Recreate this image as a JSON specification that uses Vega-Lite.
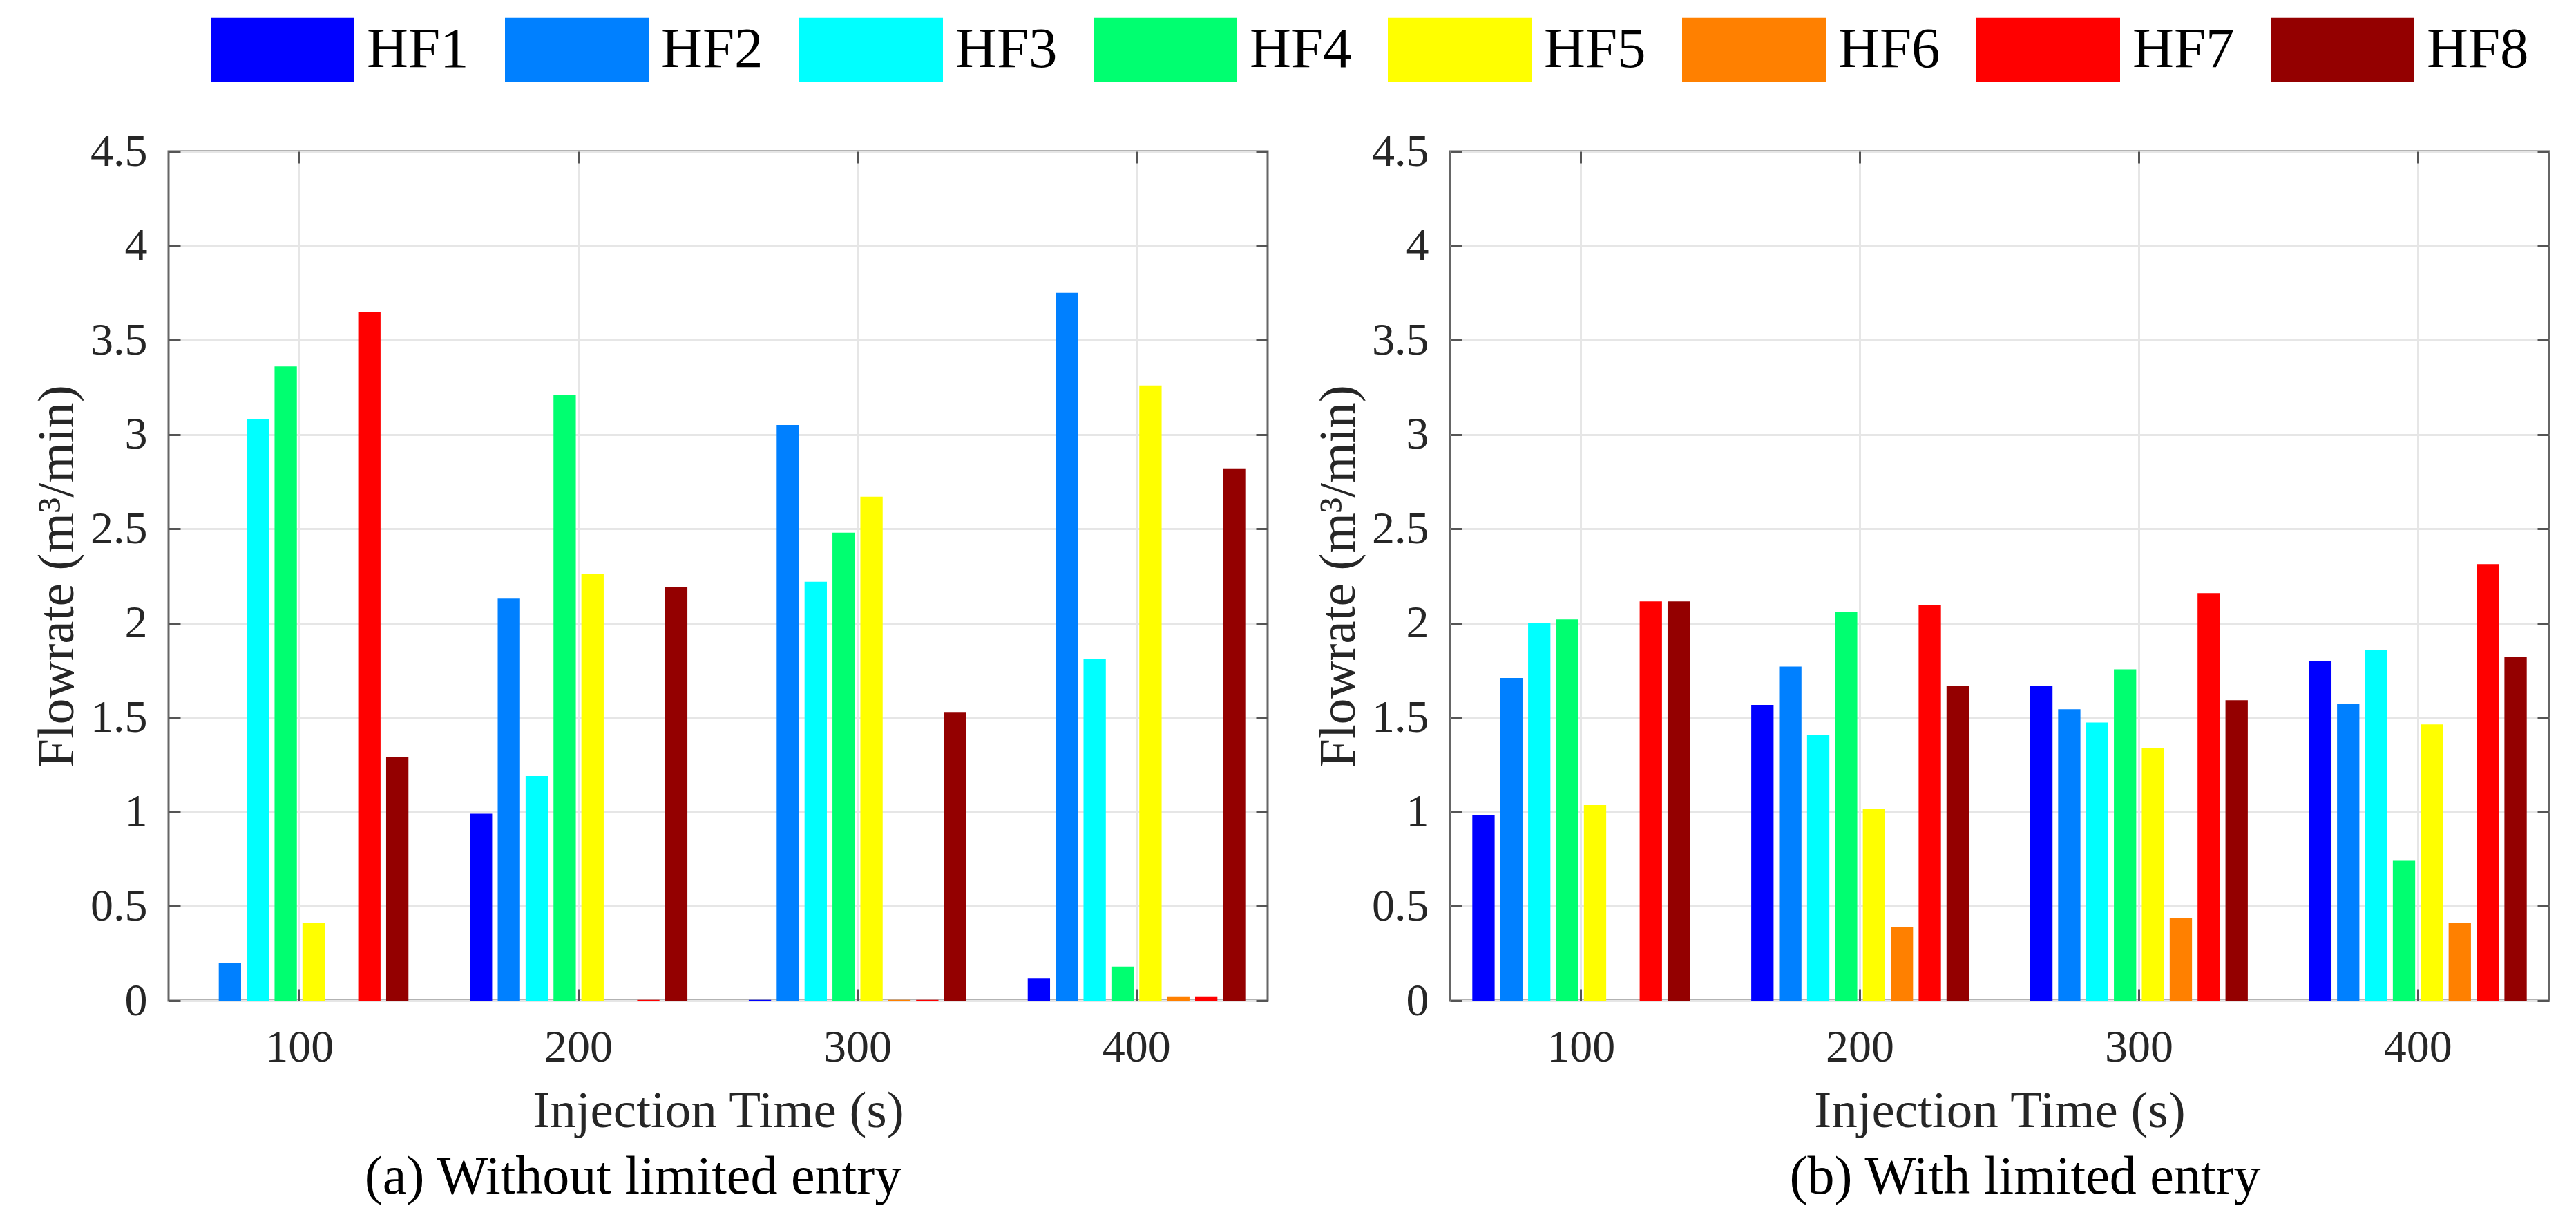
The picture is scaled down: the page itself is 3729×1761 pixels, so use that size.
{
  "$schema": "https://vega.github.io/schema/vega-lite/v6.json",
  "padding": {"left": 44, "top": -32, "right": 27, "bottom": 12},
  "background": "white",
  "config": {
    "font": "Liberation Serif",
    "view": {"stroke": "#666666", "strokeWidth": 3},
    "axis": {
      "labelFont": "Liberation Serif",
      "titleFont": "Liberation Serif",
      "labelFontSize": 66,
      "titleFontSize": 75,
      "labelColor": "#262626",
      "titleColor": "#262626",
      "titleFontWeight": "normal",
      "tickColor": "#555555",
      "tickWidth": 3,
      "tickSize": -17,
      "gridColor": "#e6e6e6",
      "gridWidth": 3,
      "domain": false
    },
    "legend": {
      "orient": "none",
      "direction": "horizontal",
      "columns": 8,
      "legendX": 61,
      "legendY": -251,
      "labelFont": "Liberation Serif",
      "labelFontSize": 83,
      "labelColor": "black",
      "labelOffset": 18,
      "columnPadding": 52,
      "symbolType": "M-1,-0.447L1,-0.447L1,0.447L-1,0.447Z",
      "symbolSize": 43264,
      "symbolStrokeWidth": 0,
      "symbolOpacity": 1,
      "title": null
    },
    "title": {"font": "Liberation Serif", "fontSize": 78, "fontWeight": "normal", "color": "black"}
  },
  "data": {
    "values": [
      {"p": "a", "t": "100", "hf": "HF1", "v": 0},
      {"p": "a", "t": "100", "hf": "HF2", "v": 0.2},
      {"p": "a", "t": "100", "hf": "HF3", "v": 3.08},
      {"p": "a", "t": "100", "hf": "HF4", "v": 3.36},
      {"p": "a", "t": "100", "hf": "HF5", "v": 0.41},
      {"p": "a", "t": "100", "hf": "HF6", "v": 0},
      {"p": "a", "t": "100", "hf": "HF7", "v": 3.65},
      {"p": "a", "t": "100", "hf": "HF8", "v": 1.29},
      {"p": "a", "t": "200", "hf": "HF1", "v": 0.99},
      {"p": "a", "t": "200", "hf": "HF2", "v": 2.13},
      {"p": "a", "t": "200", "hf": "HF3", "v": 1.19},
      {"p": "a", "t": "200", "hf": "HF4", "v": 3.21},
      {"p": "a", "t": "200", "hf": "HF5", "v": 2.26},
      {"p": "a", "t": "200", "hf": "HF6", "v": 0},
      {"p": "a", "t": "200", "hf": "HF7", "v": 0.005},
      {"p": "a", "t": "200", "hf": "HF8", "v": 2.19},
      {"p": "a", "t": "300", "hf": "HF1", "v": 0.005},
      {"p": "a", "t": "300", "hf": "HF2", "v": 3.05},
      {"p": "a", "t": "300", "hf": "HF3", "v": 2.22},
      {"p": "a", "t": "300", "hf": "HF4", "v": 2.48},
      {"p": "a", "t": "300", "hf": "HF5", "v": 2.67},
      {"p": "a", "t": "300", "hf": "HF6", "v": 0.005},
      {"p": "a", "t": "300", "hf": "HF7", "v": 0.005},
      {"p": "a", "t": "300", "hf": "HF8", "v": 1.53},
      {"p": "a", "t": "400", "hf": "HF1", "v": 0.12},
      {"p": "a", "t": "400", "hf": "HF2", "v": 3.75},
      {"p": "a", "t": "400", "hf": "HF3", "v": 1.81},
      {"p": "a", "t": "400", "hf": "HF4", "v": 0.18},
      {"p": "a", "t": "400", "hf": "HF5", "v": 3.26},
      {"p": "a", "t": "400", "hf": "HF6", "v": 0.023},
      {"p": "a", "t": "400", "hf": "HF7", "v": 0.023},
      {"p": "a", "t": "400", "hf": "HF8", "v": 2.82},
      {"p": "b", "t": "100", "hf": "HF1", "v": 0.985},
      {"p": "b", "t": "100", "hf": "HF2", "v": 1.71},
      {"p": "b", "t": "100", "hf": "HF3", "v": 2.0},
      {"p": "b", "t": "100", "hf": "HF4", "v": 2.02},
      {"p": "b", "t": "100", "hf": "HF5", "v": 1.036},
      {"p": "b", "t": "100", "hf": "HF6", "v": 0},
      {"p": "b", "t": "100", "hf": "HF7", "v": 2.115},
      {"p": "b", "t": "100", "hf": "HF8", "v": 2.115},
      {"p": "b", "t": "200", "hf": "HF1", "v": 1.567},
      {"p": "b", "t": "200", "hf": "HF2", "v": 1.77},
      {"p": "b", "t": "200", "hf": "HF3", "v": 1.408},
      {"p": "b", "t": "200", "hf": "HF4", "v": 2.06},
      {"p": "b", "t": "200", "hf": "HF5", "v": 1.018},
      {"p": "b", "t": "200", "hf": "HF6", "v": 0.392},
      {"p": "b", "t": "200", "hf": "HF7", "v": 2.097},
      {"p": "b", "t": "200", "hf": "HF8", "v": 1.67},
      {"p": "b", "t": "300", "hf": "HF1", "v": 1.67},
      {"p": "b", "t": "300", "hf": "HF2", "v": 1.544},
      {"p": "b", "t": "300", "hf": "HF3", "v": 1.474},
      {"p": "b", "t": "300", "hf": "HF4", "v": 1.756},
      {"p": "b", "t": "300", "hf": "HF5", "v": 1.336},
      {"p": "b", "t": "300", "hf": "HF6", "v": 0.436},
      {"p": "b", "t": "300", "hf": "HF7", "v": 2.159},
      {"p": "b", "t": "300", "hf": "HF8", "v": 1.592},
      {"p": "b", "t": "400", "hf": "HF1", "v": 1.8},
      {"p": "b", "t": "400", "hf": "HF2", "v": 1.574},
      {"p": "b", "t": "400", "hf": "HF3", "v": 1.86},
      {"p": "b", "t": "400", "hf": "HF4", "v": 0.741},
      {"p": "b", "t": "400", "hf": "HF5", "v": 1.464},
      {"p": "b", "t": "400", "hf": "HF6", "v": 0.41},
      {"p": "b", "t": "400", "hf": "HF7", "v": 2.313},
      {"p": "b", "t": "400", "hf": "HF8", "v": 1.823}
    ]
  },
  "spacing": 61,
  "hconcat": [
    {
      "width": 1591,
      "height": 1229,
      "title": {"text": "(a) Without limited entry", "orient": "bottom", "frame": "group", "anchor": "middle", "dx": -123, "offset": 20},
      "transform": [{"filter": "datum.p == 'a'"}],
      "layer": [
        {
          "mark": {"type": "bar"},
          "encoding": {
            "x": {
              "field": "t", "type": "ordinal",
              "scale": {"paddingInner": 0.2, "paddingOuter": 0.07},
              "axis": {"orient": "bottom", "title": "Injection Time (s)", "labelAngle": 0, "bandPosition": 0.5, "grid": true, "labelPadding": 52, "titlePadding": 23}
            },
            "xOffset": {"field": "hf", "type": "nominal", "scale": {"paddingInner": 0.2, "paddingOuter": 0.1}},
            "y": {
              "field": "v", "type": "quantitative", "stack": null,
              "scale": {"domain": [0, 4.5], "nice": false},
              "axis": {"orient": "left", "title": "Flowrate (m³/min)", "values": [0, 0.5, 1, 1.5, 2, 2.5, 3, 3.5, 4, 4.5], "format": "~g", "grid": true, "labelPadding": 48, "titlePadding": 9}
            },
            "color": {
              "field": "hf", "type": "nominal",
              "scale": {
                "domain": ["HF1", "HF2", "HF3", "HF4", "HF5", "HF6", "HF7", "HF8"],
                "range": ["#0000ff", "#0080ff", "#00ffff", "#00ff70", "#ffff00", "#ff8000", "#ff0000", "#940000"]
              }
            }
          }
        },
        {
          "mark": {"type": "bar", "opacity": 0},
          "encoding": {
            "x": {"field": "t", "type": "ordinal", "axis": {"orient": "top", "labels": false, "title": null, "grid": false, "bandPosition": 0.5}},
            "y": {"field": "v", "type": "quantitative", "stack": null, "axis": {"orient": "right", "labels": false, "title": null, "grid": false, "values": [0, 0.5, 1, 1.5, 2, 2.5, 3, 3.5, 4, 4.5]}}
          }
        }
      ]
    },
    {
      "width": 1591,
      "height": 1229,
      "title": {"text": "(b) With limited entry", "orient": "bottom", "frame": "group", "anchor": "middle", "dx": 37, "offset": 20},
      "transform": [{"filter": "datum.p == 'b'"}],
      "layer": [
        {
          "mark": {"type": "bar"},
          "encoding": {
            "x": {
              "field": "t", "type": "ordinal",
              "scale": {"paddingInner": 0.2, "paddingOuter": 0.07},
              "axis": {"orient": "bottom", "title": "Injection Time (s)", "labelAngle": 0, "bandPosition": 0.5, "grid": true, "labelPadding": 52, "titlePadding": 23}
            },
            "xOffset": {"field": "hf", "type": "nominal", "scale": {"paddingInner": 0.2, "paddingOuter": 0.1}},
            "y": {
              "field": "v", "type": "quantitative", "stack": null,
              "scale": {"domain": [0, 4.5], "nice": false},
              "axis": {"orient": "left", "title": "Flowrate (m³/min)", "values": [0, 0.5, 1, 1.5, 2, 2.5, 3, 3.5, 4, 4.5], "format": "~g", "grid": true, "labelPadding": 48, "titlePadding": 9}
            },
            "color": {"field": "hf", "type": "nominal"}
          }
        },
        {
          "mark": {"type": "bar", "opacity": 0},
          "encoding": {
            "x": {"field": "t", "type": "ordinal", "axis": {"orient": "top", "labels": false, "title": null, "grid": false, "bandPosition": 0.5}},
            "y": {"field": "v", "type": "quantitative", "stack": null, "axis": {"orient": "right", "labels": false, "title": null, "grid": false, "values": [0, 0.5, 1, 1.5, 2, 2.5, 3, 3.5, 4, 4.5]}}
          }
        }
      ]
    }
  ]
}
